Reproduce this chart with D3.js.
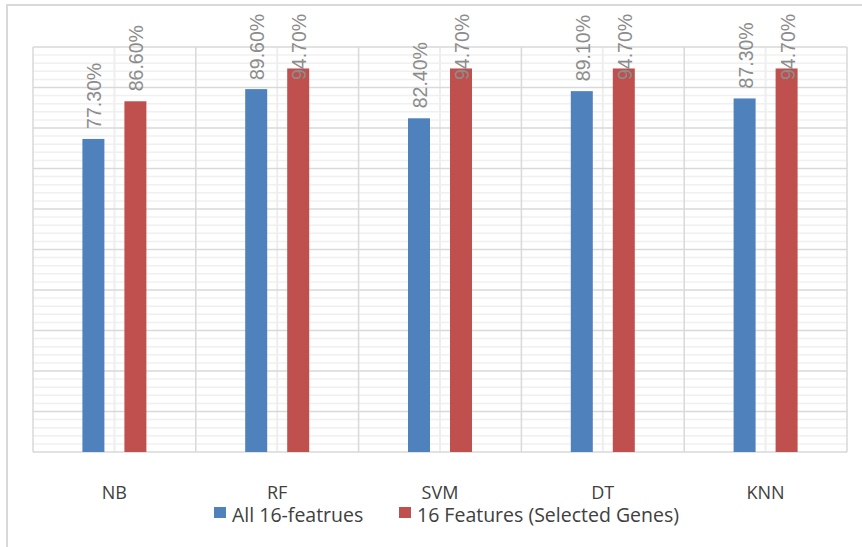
<!DOCTYPE html>
<html><head><meta charset="utf-8">
<script src="https://cdn.jsdelivr.net/npm/d3@7"></script>
<style>html,body{margin:0;padding:0;background:#fff;}svg{display:block;}</style>
</head><body>
<svg id="c" width="862" height="547"></svg>
<script>
const categories = ["NB", "RF", "SVM", "DT", "KNN"];
const seriesNames = ["All 16-featrues", "16 Features (Selected Genes)"];
const allFeatures = [77.3, 89.6, 82.4, 89.1, 87.3];
const selectedFeatures = [86.6, 94.7, 94.7, 94.7, 94.7];
const colors = ["#4f81bd", "#c0504d"];
const majorTicks = [0, 10, 20, 30, 40, 50, 60, 70, 80, 90, 100];

const svg = d3.select("#c");
const L = 33, R = 847, T = 47, B = 452;

// outer border
svg.append("rect").attr("x", 7).attr("y", 5).attr("width", 870).attr("height", 560)
  .attr("fill", "none").attr("stroke", "#d9d9d9").attr("stroke-width", 2);

const x = d3.scaleBand().domain(categories).range([L, R]).paddingInner(0).paddingOuter(0);
const y = d3.scaleLinear().domain([0, 100]).range([B, T]);

const g = svg.append("g");
// minor horizontal gridlines
const minor = d3.range(0, 101, 2).filter(v => v % 10 !== 0);
g.selectAll(".mh").data(minor).join("line")
  .attr("x1", L).attr("x2", R).attr("y1", d => y(d)).attr("y2", d => y(d))
  .attr("stroke", "#f0f0f0").attr("stroke-width", 1.5);
// minor vertical lines at category centers
g.selectAll(".mv").data(categories).join("line")
  .attr("x1", d => x(d) + x.bandwidth() / 2).attr("x2", d => x(d) + x.bandwidth() / 2)
  .attr("y1", T).attr("y2", B).attr("stroke", "#eeeeee").attr("stroke-width", 2);
// major horizontal gridlines
g.selectAll(".Mh").data(majorTicks).join("line")
  .attr("x1", L).attr("x2", R).attr("y1", d => y(d)).attr("y2", d => y(d))
  .attr("stroke", "#d9d9d9").attr("stroke-width", 1.5);
// major vertical lines at category boundaries
const bounds = categories.map(c => x(c)).concat([R]);
g.selectAll(".Mv").data(bounds).join("line")
  .attr("x1", d => d).attr("x2", d => d).attr("y1", T).attr("y2", B)
  .attr("stroke", "#d9d9d9").attr("stroke-width", 1.5);

const series = [allFeatures, selectedFeatures];
const barW = 22;
const offsets = [-21, 21];
series.forEach((vals, si) => {
  const gs = svg.append("g");
  gs.selectAll("rect").data(vals).join("rect")
    .attr("x", (d, i) => x(categories[i]) + x.bandwidth() / 2 + offsets[si] - barW / 2)
    .attr("y", d => y(d)).attr("width", barW).attr("height", d => B - y(d))
    .attr("fill", colors[si]);
  gs.selectAll("text").data(vals).join("text")
    .attr("transform", (d, i) => {
      const cx = x(categories[i]) + x.bandwidth() / 2 + offsets[si];
      const textLen = 68;
      const by = Math.max(y(d) - 10, 12 + textLen);
      return `translate(${cx + 8},${by}) rotate(-90)`;
    })
    .attr("font-family", "Liberation Sans, Arial, sans-serif")
    .attr("font-size", 19.5).attr("fill", "#8c8c8c")
    .text(d => d.toFixed(2) + "%");
});

// category labels
svg.append("g").selectAll("text").data(categories).join("text")
  .attr("x", d => x(d) + x.bandwidth() / 2).attr("y", 499)
  .attr("text-anchor", "middle").attr("font-family", "Open Sans, sans-serif")
  .attr("font-size", 18).attr("fill", "#404040").text(d => d);

// legend
const legend = svg.append("g");
const lx = [214, 399];
seriesNames.forEach((n, i) => {
  legend.append("rect").attr("x", lx[i]).attr("y", 507).attr("width", 12).attr("height", 11).attr("fill", colors[i]);
  legend.append("text").attr("x", lx[i] + 18).attr("y", 521.5)
    .attr("font-family", "Open Sans, sans-serif").attr("font-size", 19.5).attr("fill", "#404040").text(n);
});
</script>
</body></html>
